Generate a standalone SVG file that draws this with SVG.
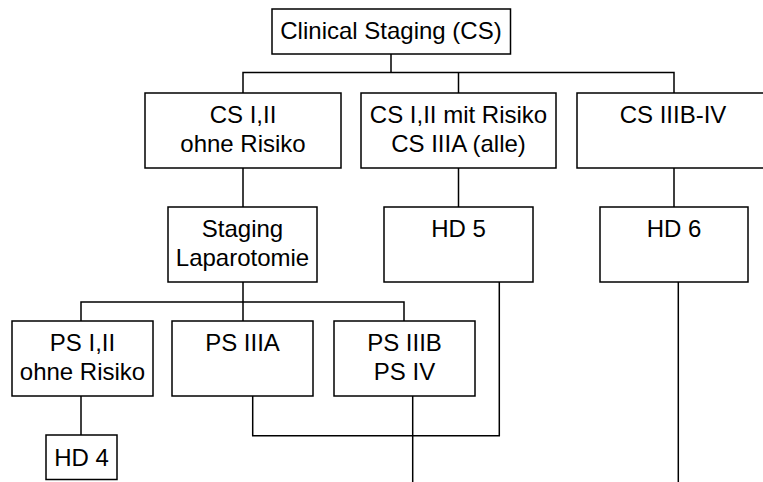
<svg xmlns="http://www.w3.org/2000/svg" width="763" height="482" viewBox="0 0 763 482">
<style>
.box{fill:#fff;stroke:#000;stroke-width:1.5}
.ln{fill:none;stroke:#000;stroke-width:1.5}
text{font-family:"Liberation Sans",Arial,sans-serif;font-size:24px;fill:#000;text-anchor:middle}
</style>
<rect width="763" height="482" fill="#fff"/>
<g id="connectors">
<path class="ln" d="M391,54V72.5M243,93V72.5H674V93M458.5,72.5V93"/>
<path class="ln" d="M243,168V207M458.5,168V207M674,168V207"/>
<path class="ln" d="M243,282V321M81,321V302H404V321"/>
<path class="ln" d="M81,396V435"/>
<path class="ln" d="M252.7,396V435.7H499.3V282"/>
<path class="ln" d="M412.7,396V482"/>
<path class="ln" d="M678.3,282V482"/>
</g>
<g id="n-cs"><rect class="box" x="272" y="9" width="238.5" height="45"/><text x="391" y="39">Clinical Staging (CS)</text></g>
<g id="n-cs12"><rect class="box" x="145" y="93" width="196" height="75"/><text x="243" y="123">CS I,II</text><text x="243" y="152">ohne Risiko</text></g>
<g id="n-cs12r"><rect class="box" x="361" y="93" width="195" height="75"/><text x="458.5" y="123">CS I,II mit Risiko</text><text x="458.5" y="152">CS IIIA (alle)</text></g>
<g id="n-cs3b"><rect class="box" x="577" y="93" width="193" height="75"/><text x="673" y="123">CS IIIB-IV</text></g>
<g id="n-stag"><rect class="box" x="168" y="207" width="149" height="75"/><text x="242.5" y="237">Staging</text><text x="242.5" y="266">Laparotomie</text></g>
<g id="n-hd5"><rect class="box" x="384" y="207" width="149" height="75"/><text x="458.5" y="237">HD 5</text></g>
<g id="n-hd6"><rect class="box" x="600" y="207" width="148" height="75"/><text x="674" y="237">HD 6</text></g>
<g id="n-ps12"><rect class="box" x="12" y="321" width="141" height="75"/><text x="82.5" y="351">PS I,II</text><text x="82.5" y="380">ohne Risiko</text></g>
<g id="n-ps3a"><rect class="box" x="172" y="321" width="141" height="75"/><text x="242.5" y="351">PS IIIA</text></g>
<g id="n-ps3b"><rect class="box" x="334" y="321" width="141" height="75"/><text x="404.5" y="351">PS IIIB</text><text x="404.5" y="380">PS IV</text></g>
<g id="n-hd4"><rect class="box" x="46" y="435" width="71" height="44.5"/><text x="81.5" y="466">HD 4</text></g>
</svg>
